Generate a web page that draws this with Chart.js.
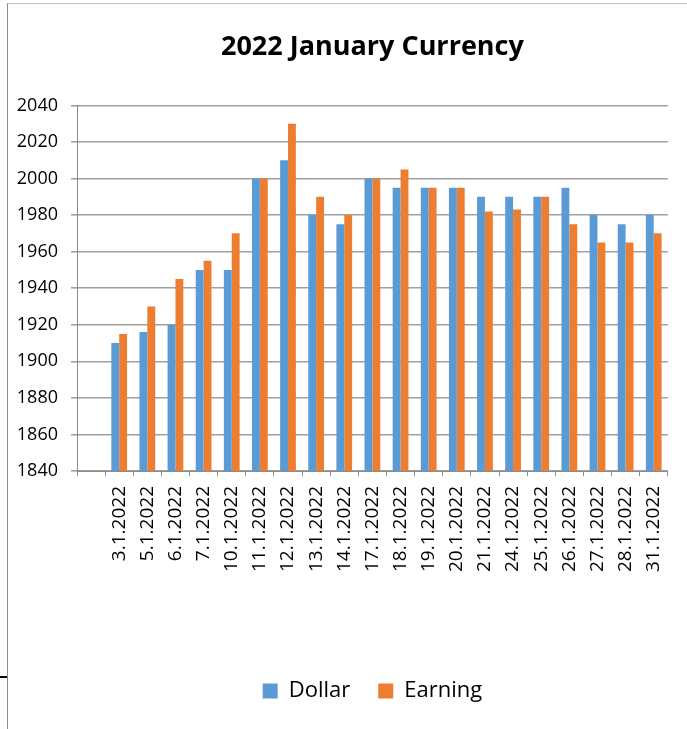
<!DOCTYPE html>
<html>
<head>
<meta charset="utf-8">
<script src="https://cdn.jsdelivr.net/npm/chart.js@4"></script>
<style>
  html, body { margin: 0; padding: 0; background: #fff; }
  #frame {
    position: absolute; left: 7px; top: 3px; width: 680px; height: 726px;
    border-left: 1px solid #8c8c8c; border-top: 1px solid #bfbfbf;
  }
  #frame canvas { display: block; }
  #mark { position: absolute; left: 0; top: 676px; width: 7px; height: 2px; background: #000; }
</style>
</head>
<body>
<div id="frame"><canvas id="currencyChart" width="679" height="725"></canvas></div>
<div id="mark"></div>
<script>
// first slot is empty in the original sheet
const days    = ['', '3.1.2022', '5.1.2022', '6.1.2022', '7.1.2022', '10.1.2022', '11.1.2022', '12.1.2022',
                 '13.1.2022', '14.1.2022', '17.1.2022', '18.1.2022', '19.1.2022', '20.1.2022', '21.1.2022',
                 '24.1.2022', '25.1.2022', '26.1.2022', '27.1.2022', '28.1.2022', '31.1.2022'];
const dollar  = [null, 1910, 1916, 1920, 1950, 1950, 2000, 2010, 1980, 1975, 2000, 1995, 1995, 1995, 1990,
                 1990, 1990, 1995, 1980, 1975, 1980];
const earning = [null, 1915, 1930, 1945, 1955, 1970, 2000, 2030, 1990, 1980, 2000, 2005, 1995, 1995, 1982,
                 1983, 1990, 1975, 1965, 1965, 1970];
const yMin = 1840, yMax = 2040, yStep = 20;

const FONT = '"Open Sans", "Liberation Sans", sans-serif';

const ctx = document.getElementById('currencyChart');
new Chart(ctx, {
  type: 'bar',
  data: {
    labels: days,
    datasets: [
      { label: 'Dollar',  data: dollar,  backgroundColor: '#5b9bd5' },
      { label: 'Earning', data: earning, backgroundColor: '#ed7d31' },
    ],
  },
  options: {
    responsive: false,
    animation: false,
    categoryPercentage: 0.56,
    barPercentage: 1.0,
    layout: { padding: { left: 0, right: 12, top: 0, bottom: 17 } },
    plugins: {
      title: {
        display: true, text: '2022 January Currency', fullSize: false,
        color: '#000', font: { family: FONT, size: 27, weight: 'bold', lineHeight: 1.2 },
        padding: { top: 27, bottom: 42 },
      },
      legend: {
        position: 'bottom', fullSize: false,
        labels: { color: '#000', boxWidth: 15, boxHeight: 15, padding: 28, font: { family: FONT, size: 22 } },
      },
      tooltip: { enabled: false },
    },
    scales: {
      x: {
        grid: { drawOnChartArea: false, drawTicks: true, tickLength: 5, color: '#8c8c8c' },
        border: { color: '#8c8c8c', width: 1 },
        ticks: { color: '#000', autoSkip: false, minRotation: 90, maxRotation: 90, padding: 10, font: { family: FONT, size: 19 } },
        afterFit: s => { s.height = 181; },
      },
      y: {
        min: yMin, max: yMax,
        grid: { color: '#a0a0a0', lineWidth: 1.6, tickLength: 6 },
        border: { color: '#8c8c8c', width: 1 },
        ticks: { stepSize: yStep, color: '#000', padding: 13, font: { family: FONT, size: 18 }, callback: v => String(v) },
        afterFit: s => { s.width = 69; },
      },
    },
  },
});
</script>
</body>
</html>
